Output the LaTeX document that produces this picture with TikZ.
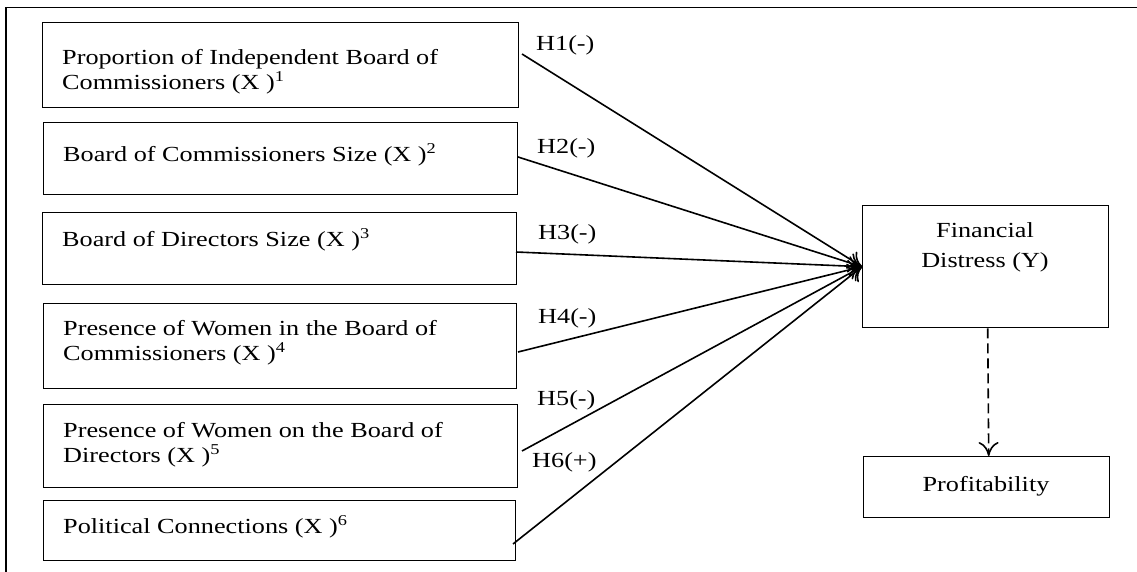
\documentclass[tikz,border=0pt]{standalone}
\usepackage{fontspec}
\setmainfont{Liberation Serif}[FakeStretch=1.22]
\usetikzlibrary{arrows.meta}
\begin{document}
\begin{tikzpicture}[x=1pt,y=-1pt,
  box/.style={draw,line width=1.4pt,inner sep=0pt,anchor=north west},
  txt/.style={inner sep=0pt,anchor=west,align=left,font=\fontsize{21.5}{24.5}\selectfont},
  ctxt/.style={inner sep=0pt,align=center,font=\fontsize{21.5}{30}\selectfont},
  hyp/.style={inner sep=0pt,anchor=west,font=\fontsize{21.5}{24.5}\selectfont},
  arr/.style={line width=1.6pt,-{To[length=13pt,width=20pt,line width=1.6pt]}},
  darr/.style={line width=1.6pt,dash pattern=on 10pt off 5pt,-{To[length=14pt,width=20pt,line width=1.6pt]}}
]
\useasboundingbox (0,0) rectangle (1137,572);
\draw[line width=1.5pt] (6,572) -- (6,7.5) -- (1137,7.5);

% left boxes
\node[box,minimum width=476pt,minimum height=85pt] (b1) at (42,22) {};
\node[box,minimum width=474pt,minimum height=72pt] (b2) at (43,122) {};
\node[box,minimum width=474pt,minimum height=72pt] (b3) at (42,212) {};
\node[box,minimum width=473pt,minimum height=85pt] (b4) at (43,303) {};
\node[box,minimum width=474pt,minimum height=83pt] (b5) at (43,404) {};
\node[box,minimum width=472pt,minimum height=60pt] (b6) at (43,500) {};

\node[txt] (t1) at (62,71.5) {Proportion of Independent Board of\\Commissioners (X )\textsuperscript{1}};
\node[txt] (t2) at (63,155) {Board of Commissioners Size (X )\textsuperscript{2}};
\node[txt] (t3) at (62,240) {Board of Directors Size (X )\textsuperscript{3}};
\node[txt] (t4) at (63,342.5) {Presence of Women in the Board of\\Commissioners (X )\textsuperscript{4}};
\node[txt] (t5) at (63,444.5) {Presence of Women on the Board of\\Directors (X )\textsuperscript{5}};
\node[txt] (t6) at (63,527) {Political Connections (X )\textsuperscript{6}};

% right boxes
\node[box,minimum width=246pt,minimum height=122pt] (fd) at (862,205) {};
\node[ctxt] (fdt) at (985,247) {Financial\\Distress (Y)};
\node[box,minimum width=246pt,minimum height=61pt] (pr) at (863,456) {};
\node[ctxt] (prt) at (986,486) {Profitability};

% hypothesis labels
\node[hyp] (h1) at (536,45) {H1(-)};
\node[hyp] (h2) at (537,148) {H2(-)};
\node[hyp] (h3) at (538,234) {H3(-)};
\node[hyp] (h4) at (538,318) {H4(-)};
\node[hyp] (h5) at (537,400) {H5(-)};
\node[hyp] (h6) at (532,462) {H6(+)};

% start points
\coordinate (s1) at (522,54);
\coordinate (s2) at (518,157);
\coordinate (s3) at (516,252);
\coordinate (s4) at (518,352);
\coordinate (s5) at (522,451);
\coordinate (s6) at (513,544);

\foreach \i in {1,...,6} \draw[arr] (s\i) -- (fd.west);
\draw[darr] ([xshift=2pt]fd.south) -- ([xshift=2pt]pr.north);
\end{tikzpicture}
\end{document}
